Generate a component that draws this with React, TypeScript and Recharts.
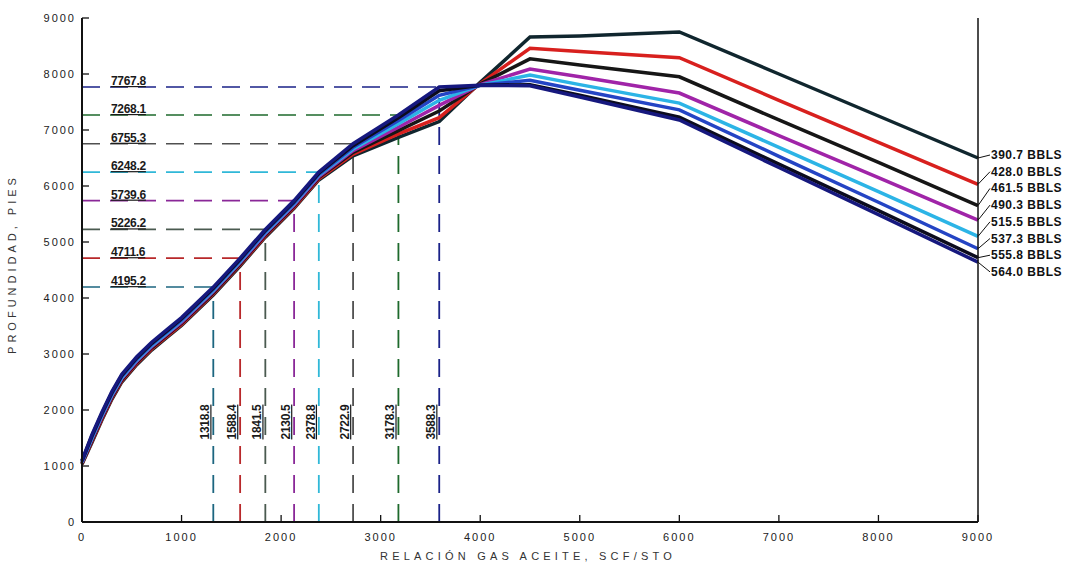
import React from 'react';
import { LineChart, Line, XAxis, YAxis, ReferenceLine, LabelList } from 'recharts';

// relación gas-aceite (SCF/STB) where the depth curves were read
const gorPoints = [0, 100, 200, 300, 400, 550, 700, 850, 1000, 1318.8, 1588.4, 1841.5, 2130.5, 2378.8, 2722.9, 3178.3, 3588.3, 4000, 4500, 5000, 6000, 7000, 8000, 9000];

// profundidad (pies) per production rate
const depth390 = [1030, 1420, 1820, 2190, 2500, 2810, 3070, 3290, 3510, 4055, 4572, 5086, 5600, 6108, 6540, 6870, 7150, 7850, 8660, 8680, 8750, 8000, 7250, 6500];
const depth428 = [1040, 1440, 1840, 2210, 2520, 2830, 3090, 3310, 3530, 4075, 4592, 5106, 5620, 6128, 6570, 6930, 7220, 7830, 8460, 8400, 8290, 7530, 6780, 6030];
const depth461 = [1050, 1460, 1860, 2230, 2540, 2850, 3110, 3330, 3550, 4095, 4612, 5126, 5640, 6148, 6600, 6990, 7340, 7820, 8270, 8160, 7950, 7180, 6420, 5650];
const depth490 = [1060, 1480, 1880, 2250, 2560, 2870, 3130, 3350, 3570, 4115, 4632, 5146, 5660, 6168, 6630, 7050, 7440, 7810, 8090, 7950, 7660, 6900, 6150, 5390];
const depth515 = [1070, 1500, 1900, 2270, 2580, 2890, 3150, 3370, 3590, 4135, 4652, 5166, 5680, 6188, 6660, 7110, 7530, 7800, 7980, 7810, 7480, 6690, 5900, 5100];
const depth537 = [1080, 1520, 1920, 2290, 2600, 2910, 3170, 3390, 3610, 4155, 4672, 5186, 5700, 6208, 6690, 7170, 7620, 7800, 7890, 7710, 7360, 6530, 5710, 4880];
const depth555 = [1090, 1540, 1940, 2310, 2620, 2930, 3190, 3410, 3630, 4175, 4692, 5206, 5720, 6228, 6720, 7220, 7700, 7800, 7810, 7620, 7230, 6390, 5560, 4720];
const depth564 = [1100, 1560, 1960, 2330, 2640, 2950, 3210, 3430, 3650, 4195, 4712, 5226, 5740, 6248, 6755, 7268, 7768, 7800, 7790, 7590, 7180, 6330, 5490, 4640];

const curveDepths = [depth390, depth428, depth461, depth490, depth515, depth537, depth555, depth564];
const curveNames = ['390.7 BBLS', '428.0 BBLS', '461.5 BBLS', '490.3 BBLS', '515.5 BBLS', '537.3 BBLS', '555.8 BBLS', '564.0 BBLS'];
const curveColors = ['#10262e', '#d8201e', '#161616', '#a024a8', '#2cb4e6', '#2444c4', '#0c0c1e', '#16187e'];

// puntos de lectura (dashed guide lines)
const markerGor = [1318.8, 1588.4, 1841.5, 2130.5, 2378.8, 2722.9, 3178.3, 3588.3];
const markerDepth = [4195.2, 4711.6, 5226.2, 5739.6, 6248.2, 6755.3, 7268.1, 7767.8];
const markerColors = ['#1c6680', '#b8282a', '#4a5a50', '#8a2898', '#30b8d8', '#505050', '#1e6a2c', '#1a2288'];

const axisTicks = [0, 1000, 2000, 3000, 4000, 5000, 6000, 7000, 8000, 9000];

const font = '"Liberation Sans", Arial, sans-serif';

const chartData = gorPoints.map((gor, i) => {
  const row: Record<string, number> = { gor };
  curveDepths.forEach((arr, k) => {
    row[`c${k}`] = arr[i];
  });
  return row;
});

function LeftTick({ x, y, payload }: any) {
  return (
    <g>
      <line x1={x} x2={x + 7} y1={y} y2={y} stroke="#111" strokeWidth={1.3} />
      <text x={x - 6} y={y} dy={4} textAnchor="end" fontSize={11} letterSpacing={2} fill="#222" fontFamily={font}>
        {payload.value}
      </text>
    </g>
  );
}

function RightTick({ x, y }: any) {
  return <line x1={x - 7} x2={x} y1={y} y2={y} stroke="#111" strokeWidth={1.2} />;
}

function BottomTick({ x, y, payload }: any) {
  return (
    <g>
      <line x1={x} x2={x} y1={y} y2={y - 7} stroke="#111" strokeWidth={1.3} />
      <text x={x} y={y + 19} textAnchor="middle" fontSize={11} letterSpacing={2} fill="#222" fontFamily={font}>
        {payload.value}
      </text>
    </g>
  );
}

function TopTick({ x, y }: any) {
  return <line x1={x} x2={x} y1={y} y2={y + 6} stroke="#333" strokeWidth={1} />;
}

const makeEndLabel = (k: number) => (props: any) => {
  const px = props.x ?? props.viewBox?.x;
  const py = props.y ?? props.viewBox?.y;
  if (px == null || px < 960) return null;
  const ly = 155 + k * 16.7;
  return (
    <g>
      <line x1={px} y1={py} x2={px + 12} y2={ly} stroke="#111" strokeWidth={1} />
      <text x={px + 13} y={ly + 4} fontSize={12} fontWeight="bold" letterSpacing={0.5} fill="#111" fontFamily={font}>
        {curveNames[k]}
      </text>
    </g>
  );
};

const makeHLabel = (i: number) => (props: any) => {
  const vb = props.viewBox;
  if (!vb) return null;
  return (
    <text x={vb.x + 29} y={vb.y - 2} fontSize={12} fontWeight="bold" letterSpacing={-0.3} textDecoration="underline" fill="#1a1a1a" fontFamily={font}>
      {markerDepth[i].toFixed(1)}
    </text>
  );
};

const makeVLabel = (i: number) => (props: any) => {
  const vb = props.viewBox;
  if (!vb) return null;
  const cx = vb.x - 4;
  const cy = vb.y + vb.height - 100;
  return (
    <text x={cx} y={cy} transform={`rotate(-90 ${cx} ${cy})`} textAnchor="middle" fontSize={12} fontWeight="bold" letterSpacing={-0.3} textDecoration="underline" fill="#1a1a1a" fontFamily={font}>
      {markerGor[i].toFixed(1)}
    </text>
  );
};

export default function App() {
  return (
    <div style={{ position: 'absolute', left: 0, top: 0, width: 1072, height: 566, background: '#fff' }}>
      <LineChart width={1072} height={566} data={chartData} margin={{ top: 18, right: 0, bottom: 0, left: 0 }}>
        <XAxis
          dataKey="gor"
          type="number"
          domain={[0, 9000]}
          ticks={axisTicks}
          height={44}
          tickSize={0}
          tickMargin={0}
          tickLine={false}
          tick={<BottomTick />}
          axisLine={{ stroke: '#111', strokeWidth: 2 }}
          label={(props: any) => {
            const vb = props.viewBox;
            if (!vb) return null;
            return (
              <text x={vb.x + vb.width / 2 - 2} y={vb.y + 38} textAnchor="middle" fontSize={11} letterSpacing={4.2} fill="#333" fontFamily={font}>
                RELACIÓN GAS ACEITE, SCF/STO
              </text>
            );
          }}
        />
        <XAxis
          xAxisId="top"
          orientation="top"
          type="number"
          domain={[0, 9000]}
          ticks={axisTicks}
          height={0}
          tickSize={0}
          tickMargin={0}
          tickLine={false}
          tick={<TopTick />}
          axisLine={{ stroke: '#aaa', strokeWidth: 1 }}
        />
        <YAxis
          type="number"
          domain={[0, 9000]}
          ticks={axisTicks}
          width={82}
          tickSize={0}
          tickMargin={0}
          tickLine={false}
          tick={<LeftTick />}
          axisLine={{ stroke: '#111', strokeWidth: 2 }}
          label={(props: any) => {
            const vb = props.viewBox;
            if (!vb) return null;
            const cx = 16;
            const cy = vb.y + vb.height / 2 - 6;
            return (
              <text x={cx} y={cy} transform={`rotate(-90 ${cx} ${cy})`} textAnchor="middle" fontSize={11} letterSpacing={4} fill="#333" fontFamily={font}>
                PROFUNDIDAD, PIES
              </text>
            );
          }}
        />
        <YAxis
          yAxisId="r"
          orientation="right"
          type="number"
          domain={[0, 9000]}
          ticks={axisTicks}
          width={94}
          tickSize={0}
          tickMargin={0}
          tickLine={false}
          tick={<RightTick />}
          axisLine={{ stroke: '#111', strokeWidth: 1.5 }}
        />

        {markerGor.map((g, i) => (
          <ReferenceLine
            key={`h${i}`}
            segment={[{ x: 0, y: markerDepth[i] }, { x: g, y: markerDepth[i] }]}
            stroke={markerColors[i]}
            strokeWidth={1.6}
            strokeDasharray="18 10"
            ifOverflow="visible"
            label={makeHLabel(i)}
          />
        ))}
        {markerGor.map((g, i) => (
          <ReferenceLine
            key={`v${i}`}
            segment={[{ x: g, y: 0 }, { x: g, y: markerDepth[i] }]}
            stroke={markerColors[i]}
            strokeWidth={1.8}
            strokeDasharray="18 11"
            ifOverflow="visible"
            label={makeVLabel(i)}
          />
        ))}

        {curveNames.map((name, k) => (
          <Line
            key={name}
            type="linear"
            dataKey={`c${k}`}
            name={name}
            stroke={curveColors[k]}
            strokeWidth={3.5}
            dot={false}
            isAnimationActive={false}
          >
            <LabelList dataKey={`c${k}`} content={makeEndLabel(k)} />
          </Line>
        ))}
      </LineChart>
    </div>
  );
}
